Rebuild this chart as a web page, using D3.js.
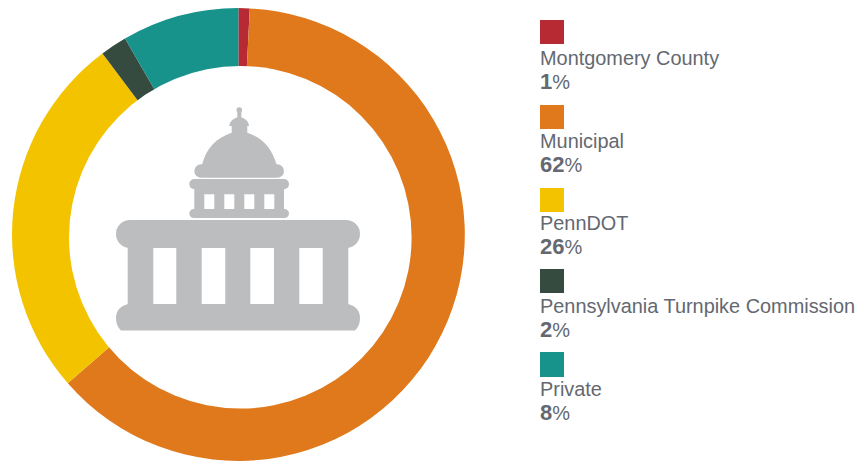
<!DOCTYPE html>
<html><head><meta charset="utf-8">
<style>html,body{margin:0;padding:0;background:#fff;overflow:hidden}svg{display:block}</style>
<script src="https://cdn.jsdelivr.net/npm/d3@7"></script></head><body><script>
const categories=["Montgomery County","Municipal","PennDOT","Pennsylvania Turnpike Commission","Private"];
const sliceValues=[0.8,62.78,26.17,1.9,8.35];
const percentNumbers=["1","62","26","2","8"];
const colors=["#b72a33","#df791b","#f3c300","#364b40","#17938c"];
const W=856,H=461,cx=238.4,cy=234.5,outerR=226.4;
const holeX=240.3,holeY=237.3,holeR=171.3;
const svg=d3.select("body").append("svg").attr("width",W).attr("height",H);
const color=d3.scaleOrdinal(categories,colors);
const pie=d3.pie().sort(null).value((d,i)=>sliceValues[i]);
const arc=d3.arc().innerRadius(0).outerRadius(outerR);
svg.append("g").attr("transform",`translate(${cx},${cy})`).selectAll("path").data(pie(categories)).join("path")
 .attr("d",arc).attr("fill",d=>color(d.data));
svg.append("circle").attr("cx",holeX).attr("cy",holeY).attr("r",holeR).attr("fill","#fff");
const rr=(x0,y0,x1,y1,r)=>`M${x0+r} ${y0}H${x1-r}A${r} ${r} 0 0 1 ${x1} ${y0+r}V${y1-r}A${r} ${r} 0 0 1 ${x1-r} ${y1}H${x0+r}A${r} ${r} 0 0 1 ${x0} ${y1-r}V${y0+r}A${r} ${r} 0 0 1 ${x0+r} ${y0}Z`;
const box=(x0,y0,x1,y1)=>`M${x0} ${y0}H${x1}V${y1}H${x0}Z`;
const icon=svg.append("g").attr("fill","#bcbdbf");
const solid=[
 rr(116,220,360,248,14),
 `M121 330.5Q116 326 116 318Q116 307 128 304H348Q360 307 360 318Q360 326 355 330.5Z`,
 rr(189.3,179,289,189.3,5),
 rr(189.3,209,289,218,4.5),
 rr(194.3,164.3,284,177.7,6.7),
 `M201.7 166C206 148 216 138 231.7 132.7V125H247.3V132.7C263 138 272 148 277 166Z`,
 `M229.3 126C229.5 121 234 118 239.3 116.7C244.5 118 249 121 249 126Z`,
 box(237.3,109,241.3,118)
].join("");
icon.append("path").attr("d",solid);
const lowerHoles=[[153.3,176.3],[201.7,225.3],[250.3,274],[299.3,322.7]].map(a=>box(a[0],246.7,a[1],304)).join("");
const upperHoles=[[204.3,214.3],[224.3,234.3],[244.3,254.3],[264.3,274.3]].map(a=>box(a[0],194.3,a[1],209)).join("");
icon.append("path").attr("fill-rule","evenodd").attr("d",box(127.7,240,348.3,310)+lowerHoles);
icon.append("path").attr("fill-rule","evenodd").attr("d",box(194.3,187,284,211)+upperHoles);
icon.append("circle").attr("cx",239.3).attr("cy",110).attr("r",2.8);
const swatchTop=d3.scaleOrdinal(categories,[20,105,188,269,352]);
const swatchHeight=d3.scaleOrdinal(categories,[24,24,24,24,25]);
const nameBase=d3.scaleOrdinal(categories,[65,148,230,313,396]);
const pctBase=d3.scaleOrdinal(categories,[89,172,254,337,420]);
const font="'Liberation Sans',Arial,sans-serif";
const ink="#646870";
const g=svg.append("g").attr("transform","translate(540,0)").selectAll("g").data(categories).join("g");
g.append("rect").attr("y",d=>swatchTop(d)).attr("width",24).attr("height",d=>swatchHeight(d)).attr("fill",d=>color(d));
g.append("text").attr("y",d=>nameBase(d)).attr("fill",ink).attr("font-family",font).attr("font-size",19.9).text(d=>d);
const pct=g.append("text").attr("y",d=>pctBase(d)).attr("fill",ink).attr("font-family",font).attr("font-size",22);
pct.append("tspan").attr("font-weight",700).text((d,i)=>percentNumbers[i]);
pct.append("tspan").attr("font-size",20).text("%");
</script></body></html>
